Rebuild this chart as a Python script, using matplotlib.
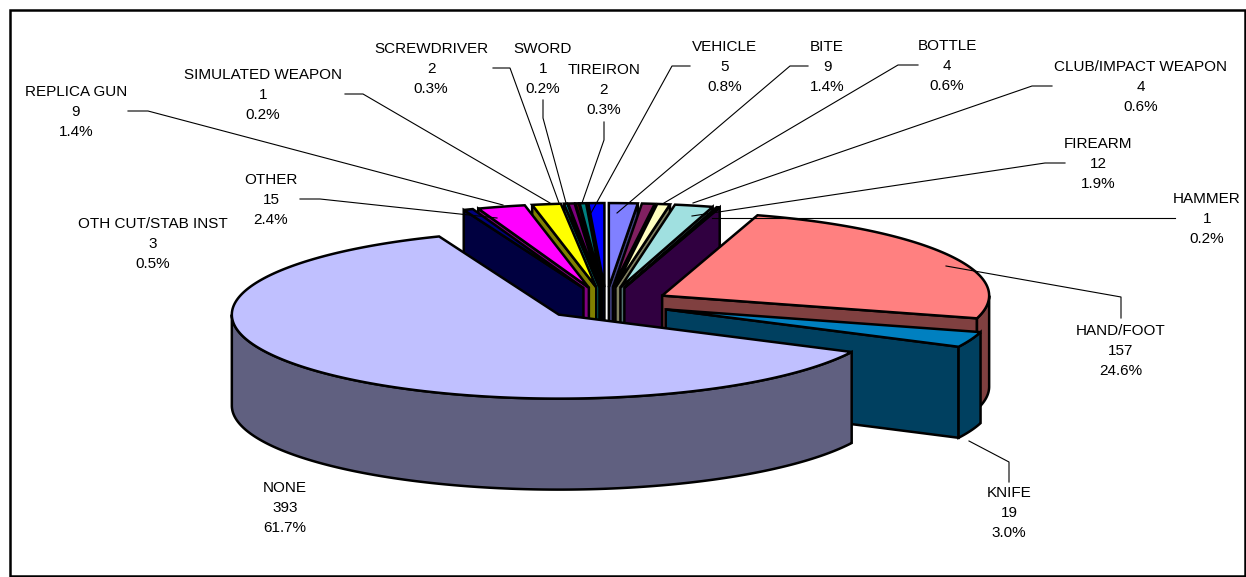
import numpy as np
import matplotlib
matplotlib.use('Agg')
import matplotlib.pyplot as plt
from matplotlib.patches import Rectangle

plt.rcParams['font.family'] = ['Liberation Sans', 'DejaVu Sans']

names = ['BITE', 'BOTTLE', 'CLUB/IMPACT WEAPON', 'FIREARM', 'HAMMER', 'HAND/FOOT', 'KNIFE', 'NONE',
         'OTH CUT/STAB INST', 'OTHER', 'REPLICA GUN', 'SIMULATED WEAPON', 'SCREWDRIVER', 'SWORD',
         'TIREIRON', 'VEHICLE']
counts = [9, 4, 4, 12, 1, 157, 19, 393, 3, 15, 9, 1, 2, 1, 2, 5]
percents = ['1.4%', '0.6%', '0.6%', '1.9%', '0.2%', '24.6%', '3.0%', '61.7%',
            '0.5%', '2.4%', '1.4%', '0.2%', '0.3%', '0.2%', '0.3%', '0.8%']
colors = ['#8080FF', '#802060', '#FFFFC0', '#A0E0E0', '#600080', '#FF8080', '#0080C0', '#C0C0FF',
          '#000080', '#FF00FF', '#FFFF00', '#00FFFF', '#800080', '#800000', '#008080', '#0000FF']

# layout, in pixels of the 1246x577 picture
label_xy = {'BITE': (827, 66), 'BOTTLE': (947, 65), 'CLUB/IMPACT WEAPON': (1141, 86), 'FIREARM': (1098, 163),
            'HAMMER': (1207, 218), 'HAND/FOOT': (1121, 350), 'KNIFE': (1009, 512), 'NONE': (285, 507),
            'OTH CUT/STAB INST': (153, 243), 'OTHER': (271, 199), 'REPLICA GUN': (76, 111),
            'SIMULATED WEAPON': (263, 94), 'SCREWDRIVER': (431, 68), 'SWORD': (543, 68),
            'TIREIRON': (604, 89), 'VEHICLE': (725, 66)}
leaders = {'BITE': [(808, 66), (790, 66), (617, 213)],
           'BOTTLE': [(918, 65), (898, 65), (664, 203)],
           'CLUB/IMPACT WEAPON': [(1052, 86), (1032, 86), (693, 203)],
           'FIREARM': [(1065, 163), (1045, 163), (692, 216)],
           'HAMMER': [(1175, 218), (1155, 218), (712, 218)],
           'HAND/FOOT': [(1121, 318), (1121, 297), (946, 266)],
           'KNIFE': [(1009, 482), (1009, 462), (969, 441)],
           'OTHER': [(300, 199), (320, 199), (497, 218)],
           'REPLICA GUN': [(128, 111), (148, 111), (503, 205)],
           'SIMULATED WEAPON': [(345, 94), (363, 94), (550, 203)],
           'SCREWDRIVER': [(493, 68), (510, 68), (559, 203)],
           'SWORD': [(543, 100), (543, 118), (566, 203)],
           'TIREIRON': [(604, 122), (604, 140), (582, 203)],
           'VEHICLE': [(690, 66), (672, 66), (591, 213)]}

CX, CY = 606, 303.5
A, B = 327, 84
DEPTH = 91
EXPLODE = 64
EDGE = 1.8


def arc(t0, t1, ax0, ay0):
    t = np.radians(np.linspace(t0, t1, max(3, int(abs(t1 - t0) * 2))))
    return ax0 + A * np.sin(t), ay0 - B * np.cos(t)


def shade(c):
    return tuple(v * 0.5 for v in matplotlib.colors.to_rgb(c))


def draw_slice(ax, t0, t1, c):
    mid = np.radians((t0 + t1) / 2)
    ax0 = CX + EXPLODE * np.sin(mid)
    ay0 = CY - EXPLODE * B / A * np.cos(mid)
    # radial wall, only the side turned to the viewer
    for t, visible in ((t0, t0 > 180), (t1, t1 < 180)):
        if visible:
            x, y = arc(t, t, ax0, ay0)
            ax.fill([ax0, x[0], x[0], ax0], [ay0, y[0], y[0] + DEPTH, ay0 + DEPTH],
                    fc=shade(c), ec='k', lw=EDGE, joinstyle='miter')
    # outer wall
    lo, hi = max(t0, 90), min(t1, 270)
    if hi > lo:
        x, y = arc(lo, hi, ax0, ay0)
        ax.fill(np.r_[x, x[::-1]], np.r_[y, y[::-1] + DEPTH], fc=shade(c), ec='k', lw=EDGE, joinstyle='miter')
    x, y = arc(t0, t1, ax0, ay0)
    ax.fill(np.r_[ax0, x], np.r_[ay0, y], fc=c, ec='k', lw=EDGE, joinstyle='miter')


fig = plt.figure(figsize=(12.46, 5.77), dpi=100)
ax = fig.add_axes([0, 0, 1, 1])
ax.set_xlim(0, 1246)
ax.set_ylim(577, 0)
ax.axis('off')
ax.add_patch(Rectangle((10, 9.5), 1235, 566, fc='white', ec='k', lw=1.8))

edges = np.r_[0, np.cumsum(counts)] / sum(counts) * 360
# painter's order: from the back (12 o'clock) towards the viewer
order = sorted(range(len(counts)), key=lambda i: min((edges[i] + edges[i + 1]) / 2, 360 - (edges[i] + edges[i + 1]) / 2))
for i in order:
    draw_slice(ax, edges[i], edges[i + 1], colors[i])

for name, n, pct in zip(names, counts, percents):
    x, y = label_xy[name]
    ax.text(x, y + 0.7, f'{name}\n{n}\n{pct}', ha='center', va='center', fontsize=11, linespacing=1.56, color='k')
    if name in leaders:
        px, py = zip(*leaders[name])
        ax.plot(px, py, color='k', lw=0.8)

fig.savefig('out.png', dpi=100)
